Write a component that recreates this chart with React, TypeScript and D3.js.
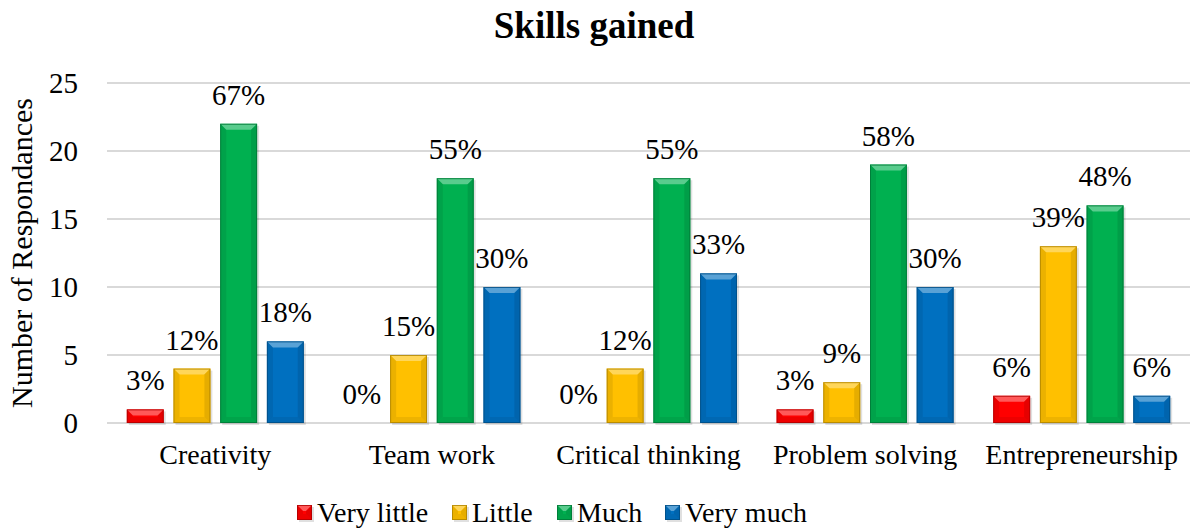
import React from "react";
import * as d3 from "d3";

const categories = ["Creativity", "Team work", "Critical thinking", "Problem solving", "Entrepreneurship"];
const seriesNames = ["Very little", "Little", "Much", "Very much"];
const veryLittle = [1, 0, 0, 1, 2];
const little = [4, 5, 4, 3, 13];
const much = [22, 18, 18, 19, 16];
const veryMuch = [6, 10, 11, 10, 2];
const veryLittlePct = ["3%", "0%", "0%", "3%", "6%"];
const littlePct = ["12%", "15%", "12%", "9%", "39%"];
const muchPct = ["67%", "55%", "55%", "58%", "48%"];
const veryMuchPct = ["18%", "30%", "33%", "30%", "6%"];
const yTicks = [0, 5, 10, 15, 20, 25];

const seriesValues = [veryLittle, little, much, veryMuch];
const seriesPct = [veryLittlePct, littlePct, muchPct, veryMuchPct];
const colors = ["#FF0000", "#FFC000", "#00B050", "#0070C0"];
const FONT = '"Liberation Serif", "Times New Roman", "DejaVu Serif", serif';

const W = 1195;
const H = 529;
const left = 107;
const right = 1190;
const top = 83;
const bottom = 423;

function Bar({ x, y, w, h, color }: { x: number; y: number; w: number; h: number; color: string }) {
  if (h <= 0) return null;
  const c = d3.color(color)!;
  const light = d3.interpolateRgb(color, "#ffffff")(0.35);
  const dark = c.darker(0.7).formatHex();
  const darker = c.darker(1.1).formatHex();
  const b = Math.min(6, h / 2, w / 2);
  return (
    <g>
      <rect x={x + 2} y={y + 2} width={w} height={h} fill="#000" opacity={0.12} />
      <rect x={x} y={y} width={w} height={h} fill={color} />
      <polygon points={`${x},${y} ${x + w},${y} ${x + w - b},${y + b} ${x + b},${y + b}`} fill={light} />
      <polygon points={`${x},${y} ${x + b},${y + b} ${x + b},${y + h - b} ${x},${y + h}`} fill={dark} opacity={0.35} />
      <polygon points={`${x + w},${y} ${x + w - b},${y + b} ${x + w - b},${y + h - b} ${x + w},${y + h}`} fill={dark} opacity={0.45} />
      <polygon points={`${x},${y + h} ${x + b},${y + h - b} ${x + w - b},${y + h - b} ${x + w},${y + h}`} fill={dark} opacity={0.3} />
      <rect x={x + 0.5} y={y + 0.5} width={w - 1} height={h - 1} fill="none" stroke={darker} strokeWidth={1} opacity={0.8} />
    </g>
  );
}

export default function App() {
  const x0 = d3.scaleBand<string>().domain(categories).range([left, right]).paddingInner(0.183).paddingOuter(0.0915);
  const x1 = d3.scaleBand<string>().domain(seriesNames).range([0, x0.bandwidth()]).paddingInner(0.21).paddingOuter(0);
  const y = d3.scaleLinear().domain([0, 25]).range([bottom, top]);

  const legendItems = [
    { name: "Very little", x: 297 },
    { name: "Little", x: 452 },
    { name: "Much", x: 557 },
    { name: "Very much", x: 665 },
  ];

  return (
    <svg width={W} height={H} style={{ display: "block", position: "absolute", left: 0, top: 0, fontFamily: FONT }}>
      <rect width={W} height={H} fill="#fff" />
      <text x={594} y={38} textAnchor="middle" fontSize={37} fontWeight="bold" fill="#000" style={{ fontFamily: FONT }}>Skills gained</text>
      {yTicks.map((t) => (
        <g key={t}>
          <line x1={left} x2={right} y1={y(t)} y2={y(t)} stroke="#d9d9d9" strokeWidth={2} />
          <text x={78} y={y(t) + 9.5} textAnchor="end" fontSize={29} fill="#000" style={{ fontFamily: FONT }}>{t}</text>
        </g>
      ))}
      <text transform={`translate(32,253) rotate(-90)`} textAnchor="middle" fontSize={30} fill="#000" style={{ fontFamily: FONT }}>Number of Respondances</text>
      {categories.map((cat, ci) => (
        <g key={cat}>
          {seriesNames.map((s, si) => {
            const v = seriesValues[si][ci];
            const bx = (x0(cat) ?? 0) + (x1(s) ?? 0);
            const bw = x1.bandwidth();
            return (
              <g key={s}>
                <Bar x={bx} y={y(v)} w={bw} h={bottom - y(v)} color={colors[si]} />
                <text x={bx + bw / 2} y={y(v) - 19} textAnchor="middle" fontSize={29} fill="#000" style={{ fontFamily: FONT }}>{seriesPct[si][ci]}</text>
              </g>
            );
          })}
          <text x={(x0(cat) ?? 0) + x0.bandwidth() / 2} y={464} textAnchor="middle" fontSize={28} fill="#000" style={{ fontFamily: FONT }}>{cat}</text>
        </g>
      ))}
      {legendItems.map((it, i) => (
        <g key={it.name}>
          <Bar x={it.x} y={505} w={15} h={15} color={colors[i]} />
          <text x={it.x + 20} y={522} fontSize={28} fill="#000" style={{ fontFamily: FONT }}>{it.name}</text>
        </g>
      ))}
    </svg>
  );
}
